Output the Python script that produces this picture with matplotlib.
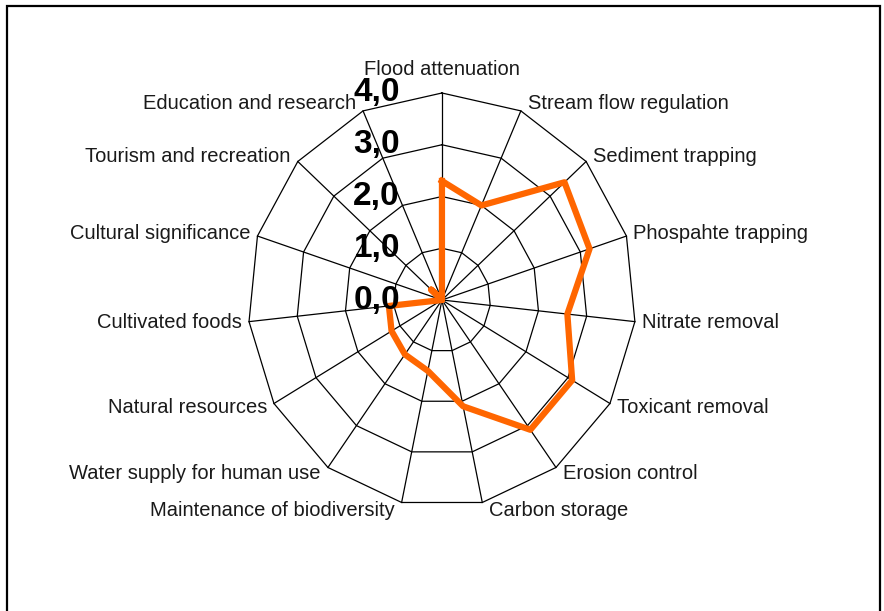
import numpy as np
import matplotlib
matplotlib.use('Agg')
import matplotlib.pyplot as plt
from matplotlib.patches import Rectangle

# ecosystem services, clockwise from the top
categories = ['Flood attenuation', 'Stream flow regulation', 'Sediment trapping',
              'Phospahte trapping', 'Nitrate removal', 'Toxicant removal',
              'Erosion control', 'Carbon storage', 'Maintenance of biodiversity',
              'Water supply for human use', 'Natural resources', 'Cultivated foods',
              'Cultural significance', 'Tourism and recreation', 'Education and research']
scores = [2.3, 2.0, 3.4, 3.2, 2.6, 3.1, 3.1, 2.1, 1.4, 1.3, 1.2, 1.1, 0.0, 0.3, 0.0]
rings = [0, 1, 2, 3, 4]
ring_labels = ['0,0', '1,0', '2,0', '3,0', '4,0']

n = len(categories)
theta = np.arange(n) * 2 * np.pi / n
closed = np.append(theta, theta[0])

fig = plt.figure(figsize=(8.84, 6.11), dpi=100)
# outer frame (bottom edge falls outside the picture)
fig.patches.append(Rectangle((7 / 884, -0.05), 873 / 884, 605 / 611 + 0.05,
                             transform=fig.transFigure, fill=False,
                             ec='black', lw=1.6))

ax = fig.add_axes([0.2805, 0.1702, 0.4389, 0.6776], projection='polar')
ax.set_aspect('auto')
ax.set_theta_zero_location('N')
ax.set_theta_direction(-1)
ax.set_ylim(0, 4)
ax.grid(False)
ax.spines['polar'].set_visible(False)
ax.set_xticks([])
ax.set_yticks([])

# polygon web
for r in rings[1:]:
    ax.plot(closed, [r] * (n + 1), color='black', lw=0.9, clip_on=False)
for t in theta:
    ax.plot([t, t], [0, rings[-1]], color='black', lw=0.9, clip_on=False)

ax.plot(closed, np.append(scores, scores[0]), color='#FF6600', lw=4.5,
        solid_joinstyle='round', clip_on=False, zorder=3)

for r, lbl in zip(rings, ring_labels):
    ax.annotate(lbl, xy=(0, r), xytext=(-42, 0), textcoords='offset pixels',
                ha='right', va='center', fontsize=24, fontweight='bold',
                family='Liberation Sans', color='black', zorder=5)

for t, cat in zip(theta, categories):
    s, c = np.sin(t), np.cos(t)
    if abs(s) < 0.05:
        ha, dx, dy = 'center', 0, 23
    else:
        ha = 'left' if s > 0 else 'right'
        dx, dy = 7 * np.sign(s), 8 * c
    ax.annotate(cat, xy=(t, rings[-1]), xytext=(dx, dy), textcoords='offset pixels',
                ha=ha, va='center', fontsize=14.5, family='Liberation Sans',
                color='#1a1a1a', annotation_clip=False)

fig.savefig('out.png', dpi=100)
